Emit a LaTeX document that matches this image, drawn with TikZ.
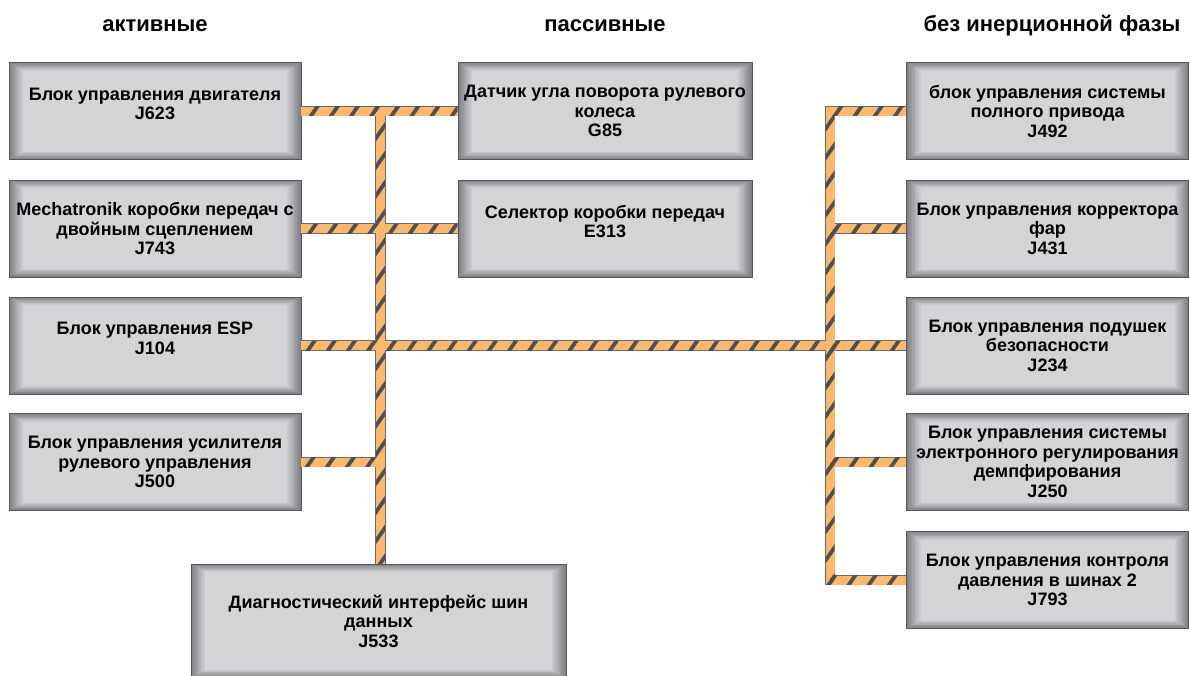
\documentclass[tikz,border=0pt]{standalone}
\usepackage{fontspec}
\setmainfont{Liberation Sans}
\usetikzlibrary{patterns.meta,calc}
\definecolor{face}{HTML}{D3D4D6}
\definecolor{edgedark}{HTML}{7E8084}
\definecolor{boxline}{HTML}{55575B}
\definecolor{busorange}{HTML}{FBB86E}
\definecolor{busstripe}{HTML}{4F4F4F}
\definecolor{busedge}{HTML}{6B6B6B}
\begin{document}
\begin{tikzpicture}[x=1pt,y=-1pt,
  ecu/.style={draw=boxline, line width=0.9pt, fill=edgedark, inner sep=0pt, align=center,
    font=\bfseries\fontsize{18}{19.5}\selectfont, text=black,
    path picture={\foreach \i in {1,...,10}{\pgfmathtruncatemacro\c{\i*10}
      \fill[face!\c!edgedark] ([shift={(\i*1.4pt,-\i*0.8pt)}]path picture bounding box.north west)
        rectangle ([shift={(-\i*1.4pt,\i*0.8pt)}]path picture bounding box.south east);}}},
  leftbox/.style={ecu, minimum width=292pt, minimum height=97pt},
  midbox/.style={ecu, minimum width=294pt, minimum height=97pt},
  rightbox/.style={ecu, minimum width=282pt, minimum height=97pt},
  hdr/.style={font=\bfseries\fontsize{22}{26}\selectfont, inner sep=0pt},
  busout/.style={draw=busedge, line width=10.5pt, line join=miter},
  busfill/.style={draw=busorange, line width=9pt, line join=miter},
  stripes/.style={pattern={Lines[angle=55,distance=16.5pt,line width=3.8pt]}, pattern color=busstripe}
]
\useasboundingbox (0,0) rectangle (1190,675);

% headers
\node[hdr] (h1) at (155,26) {активные};
\node[hdr] (h2) at (605,26) {пассивные};
\node[hdr] (h3) at (1052,26) {без инерционной фазы};

% left column
\node[leftbox] (j623) at (155,111) {Блок управления двигателя\\J623\\[-5pt]\mbox{}};
\node[leftbox] (j743) at (155,228.5) {Mechatronik коробки передач с\\двойным сцеплением\\J743};
\node[leftbox] (j104) at (155,345.5) {Блок управления ESP\\J104\\[-5pt]\mbox{}};
\node[leftbox] (j500) at (155,462) {Блок управления усилителя\\рулевого управления\\J500};

% middle column
\node[midbox] (g85) at (605,111) {Датчик угла поворота рулевого\\колеса\\G85};
\node[midbox] (e313) at (605,228.5) {Селектор коробки передач\\E313\\[-5pt]\mbox{}};
\node[ecu, minimum width=375pt, minimum height=114pt] (j533) at (378.5,621) {Диагностический интерфейс шин\\данных\\J533};

% right column
\node[rightbox] (j492) at (1047.5,111) {блок управления системы\\полного привода\\J492};
\node[rightbox] (j431) at (1047.5,228.5) {Блок управления корректора\\фар\\J431};
\node[rightbox] (j234) at (1047.5,345.5) {Блок управления подушек\\безопасности\\J234};
\node[rightbox] (j250) at (1047.5,462) {Блок управления системы\\электронного регулирования\\демпфирования\\J250};
\node[rightbox] (j793) at (1047.5,580) {Блок управления контроля\\давления в шинах 2\\J793};

% bus junction points
\coordinate (lt) at (380.5,111);
\coordinate (l500) at (380.5,462);
\coordinate (rt) at (830,111);
\coordinate (rb) at (830,580);

% bus outlines and fills
\foreach \s in {busout,busfill}{
  \path[\s] (j623.east) -- (g85.west);
  \path[\s] (j743.east) -- (e313.west);
  \path[\s] (j104.east) -- (j234.west);
  \path[\s] (j500.east) -- (l500);
  \path[\s] (lt) -- (lt |- j533.north);
  \path[\s] (j492.west) -- (rt) -- (rb) -- (j793.west);
  \path[\s] (j431.west) -- (j431.west -| rt);
  \path[\s] (j250.west) -- (j250.west -| rt);
}
% bus stripes
\fill[stripes] ($(j623.east)+(0,-4.5)$) rectangle ($(g85.west)+(0,4.5)$);
\fill[stripes] ($(j743.east)+(0,-4.5)$) rectangle ($(e313.west)+(0,4.5)$);
\fill[stripes] ($(j104.east)+(0,-4.5)$) rectangle ($(j234.west)+(0,4.5)$);
\fill[stripes] ($(j500.east)+(0,-4.5)$) rectangle ($(l500)+(4.5,4.5)$);
\fill[stripes] ($(lt)+(-4.5,0)$) rectangle ($(lt |- j533.north)+(4.5,0)$);
\fill[stripes] ($(rt)+(-4.5,-4.5)$) rectangle ($(rb)+(4.5,4.5)$);
\fill[stripes] ($(j492.west)+(0,-4.5)$) rectangle ($(rt)+(0,4.5)$);
\fill[stripes] ($(j431.west)+(0,-4.5)$) rectangle ($(j431.west -| rt)+(0,4.5)$);
\fill[stripes] ($(j250.west)+(0,-4.5)$) rectangle ($(j250.west -| rt)+(0,4.5)$);
\fill[stripes] ($(j793.west)+(0,-4.5)$) rectangle ($(rb)+(0,4.5)$);
\end{tikzpicture}
\end{document}
